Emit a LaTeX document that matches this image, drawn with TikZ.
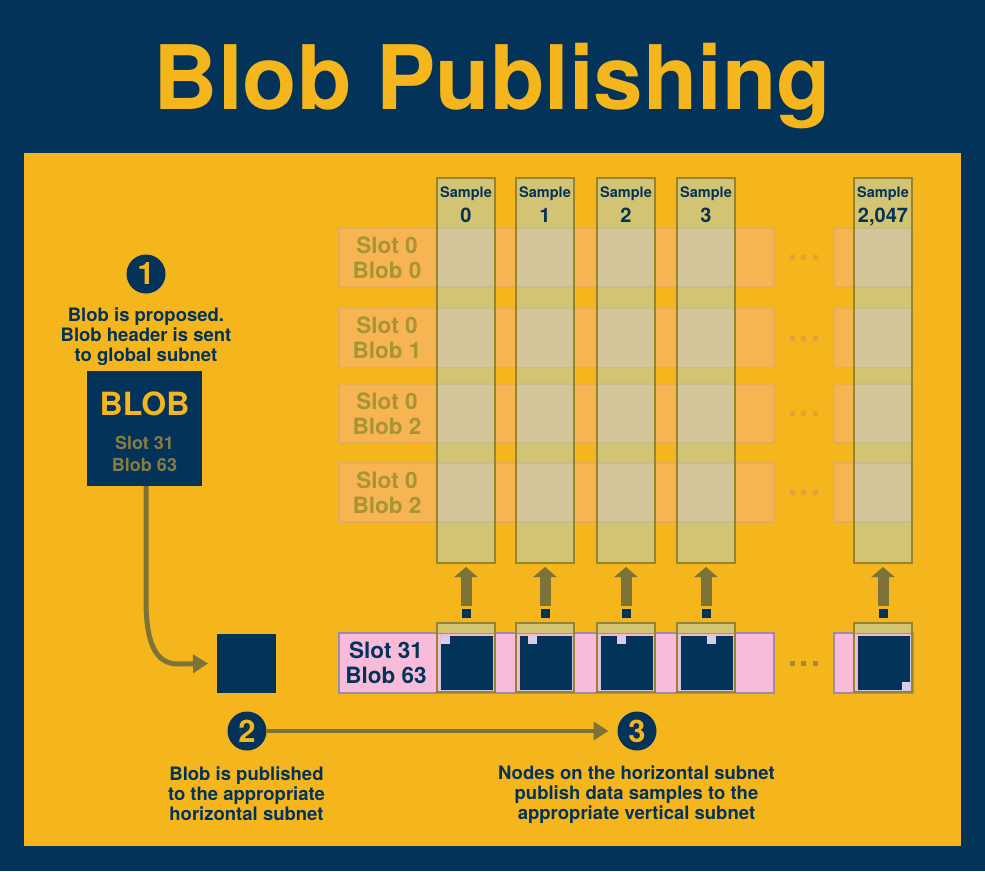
\documentclass[tikz,border=0pt]{standalone}
\usepackage{fontspec}
\setmainfont{TeX Gyre Heros}
\usetikzlibrary{positioning,arrows.meta}

\definecolor{bgnavy}{RGB}{3,51,88}
\definecolor{gold}{RGB}{245,181,28}
\definecolor{arrowol}{RGB}{125,115,56}
\definecolor{colfill}{RGB}{211,196,116}
\definecolor{colline}{RGB}{150,132,48}
\definecolor{lanefill}{RGB}{246,180,82}
\definecolor{laneline}{RGB}{230,172,86}
\definecolor{crossfill}{RGB}{213,197,154}
\definecolor{crossline}{RGB}{200,187,140}
\definecolor{lanefont}{RGB}{168,148,52}
\definecolor{lanedot}{RGB}{222,164,56}
\definecolor{pinkfill}{RGB}{249,187,218}
\definecolor{pinkline}{RGB}{155,140,170}
\definecolor{chunkline}{RGB}{200,200,228}
\definecolor{lilac}{RGB}{216,204,232}
\definecolor{hdot}{RGB}{160,140,50}
\definecolor{boxtext}{RGB}{138,124,64}

\begin{document}
\begin{tikzpicture}
    [x=1pt,y=-1pt,
     every node/.style={inner sep=0pt, outer sep=0pt},
     title/.style={anchor=base, text=gold, font=\fontsize{89}{89}\selectfont\bfseries},
     lane/.style={rectangle, draw=laneline, fill=lanefill, line width=1.5pt, minimum height=59pt},
     lanelabel/.style={text=lanefont, align=center, font=\fontsize{22.5}{25}\selectfont\bfseries},
     col/.style={rectangle, fill=colfill, minimum width=58pt, minimum height=385pt},
     crossing/.style={fill=crossfill, draw=crossline, line width=1.5pt},
     frame/.style={draw=colline, line width=2pt},
     head/.style={anchor=base, text=bgnavy, font=\fontsize{14.5}{16}\selectfont\bfseries},
     idx/.style={anchor=base, text=bgnavy, font=\fontsize{20}{22}\selectfont\bfseries},
     hlane/.style={rectangle, draw=pinkline, fill=pinkfill, line width=2pt, minimum height=60pt},
     hlabel/.style={text=bgnavy, align=center, font=\fontsize{22.5}{25}\selectfont\bfseries},
     chunk/.style={rectangle, fill=bgnavy, draw=chunkline, line width=1pt, minimum width=53pt, minimum height=55pt},
     port/.style={rectangle, fill=bgnavy, minimum size=9pt},
     lift/.style={draw=arrowol, line width=11pt, -{Triangle[length=10pt,width=23pt]}},
     flow/.style={draw=arrowol, line width=5pt, -{Triangle[length=15pt,width=18pt]}},
     badge/.style={circle, fill=bgnavy, text=gold, minimum size=39pt, font=\fontsize{31}{31}\selectfont\bfseries},
     note/.style={text=bgnavy, align=center, font=\fontsize{18.5}{20}\selectfont\bfseries}]
  \useasboundingbox (0,0) rectangle (985,871);
  \fill[bgnavy] (0,0) rectangle (985,871);
  \fill[gold] (24,153) rectangle (961,846);

  \node[title] (title) at (492.5,109) {Blob Publishing};

  \foreach \r/\y/\b in {r0/257.5/0, r1/338/1, r2/413.5/2, r3/492.5/2} {
    \node[lane, minimum width=435pt] (\r) at (556.5,\y) {};
    \node[lane, minimum width=79pt] (\r-tail) at (873.5,\y) {};
    \node[lanelabel] (\r-l) at (387,\y) {Slot 0\\Blob \b};
    \foreach \d in {792,803,815}
      \fill[lanedot] (\d-2.5,\y-2.5) rectangle ++(5,5);
  }

  \foreach \c/\x/\s in {c0/466/0, c1/545/1, c2/626/2, c3/706/3, c4/883/{2,047}} {
    \node[col] (\c) at (\x,370.5) {};
    \foreach \r in {r0,r1,r2,r3}
      \draw[crossing] (\c.west |- \r.north) rectangle (\c.east |- \r.south);
    \draw[frame] (\c.north west) rectangle (\c.south east);
    \node[head] (\c-h) at (\x,197) {Sample};
    \node[idx] (\c-n) at (\x,222) {\s};
  }

  \node[hlane, minimum width=435pt] (h) at (556.5,663) {};
  \node[hlane, minimum width=79pt] (h-tail) at (873.5,663) {};
  \node[hlabel] (h-l) at (386,663) {Slot 31\\Blob 63};
  \foreach \d in {792,803,815}
    \fill[hdot] (\d-2.5,660.5) rectangle ++(5,5);

  \foreach \c/\x/\mx/\my in {c0/466/441/636, c1/545/528/636, c2/626/617/636, c3/706/707/636, c4/883/902/682} {
    \node[rectangle, minimum width=58pt, minimum height=69pt] (\c-b) at (\x,657.5) {};
    \fill[colfill] (\c-b.north west) rectangle (\c-b.east |- h.north);
    \node[chunk] (\c-s) at (\x+0.5,662.5) {};
    \fill[lilac] (\mx,\my) rectangle ++(9,8);
    \draw[frame] (\c-b.north west) rectangle (\c-b.south east);
    \node[port] (\c-p) at (\x,613) {};
    \draw[lift] ([yshift=3pt]\c-p.north) -- ([yshift=-4pt]\c.south);
  }

  \node[badge] (k1) at (146,274) {1};
  \node[note] (t1) at (146,336.3) {Blob is proposed.\\Blob header is sent\\to global subnet};
  \node[rectangle, fill=bgnavy, minimum size=115pt] (blob) at (144.5,428.5) {};
  \node[anchor=base, text=gold, font=\fontsize{32}{32}\selectfont\bfseries] (blob-n) at (144.5,415) {BLOB};
  \node[align=center, text=boxtext, font=\fontsize{18}{22}\selectfont\bfseries] (blob-i) at (144.5,453.5) {Slot 31\\Blob 63};

  \node[rectangle, fill=bgnavy, minimum size=59pt] (hblob) at (246.5,663.5) {};
  \draw[flow] ([xshift=1.5pt]blob.south) -- (146,600) .. controls (146,642) and (155,664) .. (178,664) -- ([xshift=-9pt]hblob.west);

  \node[badge] (k2) at (247,731) {2};
  \node[badge] (k3) at (637,731) {3};
  \draw[flow, line width=4pt] (k2) -- ([xshift=-9pt]k3.west);
  \node[note] (t2) at (246.5,793.3) {Blob is published\\to the appropriate\\horizontal subnet};
  \node[note] (t3) at (636.5,794.3) {Nodes on the horizontal subnet\\publish data samples to the\\appropriate vertical subnet};
\end{tikzpicture}
\end{document}
